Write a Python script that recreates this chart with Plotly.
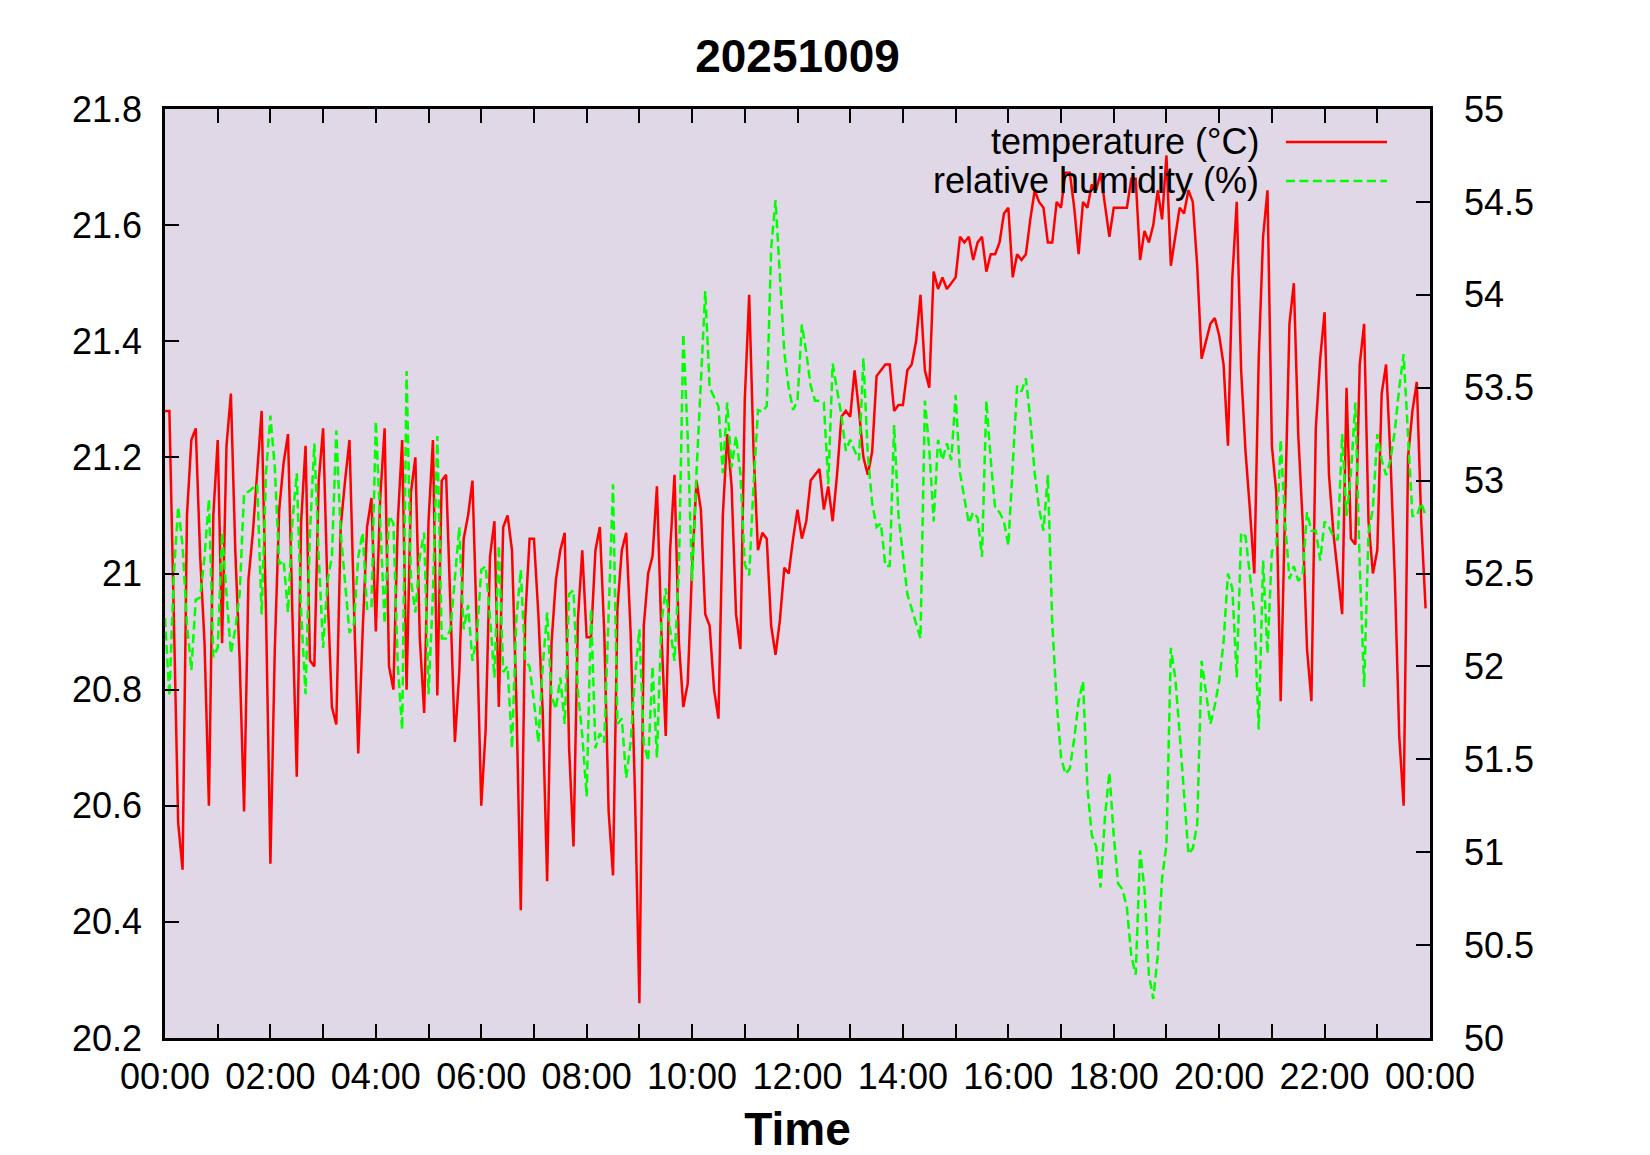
import plotly.graph_objects as go
import pandas as pd

# ---- data: samples every 5 minutes, 00:00 .. 23:55 on 2025-10-09 ----
times = pd.date_range("2025-10-09 00:00", periods=288, freq="5min")

temperature = [
    21.28, 21.28, 20.93, 20.57, 20.49, 21.10, 21.23, 21.25, 21.03, 20.88, 20.60, 21.10,
    21.23, 20.88, 21.22, 21.31, 21.04, 20.85, 20.59, 20.99, 21.07, 21.17, 21.28, 20.93,
    20.50, 20.87, 21.11, 21.19, 21.24, 20.93, 20.65, 21.09, 21.22, 20.85, 20.84, 21.16,
    21.25, 20.97, 20.77, 20.74, 21.08, 21.16, 21.23, 20.95, 20.69, 20.90, 21.08, 21.13,
    20.90, 21.13, 21.25, 20.84, 20.80, 21.09, 21.23, 20.80, 21.14, 21.20, 20.89, 20.76,
    21.09, 21.23, 20.79, 21.16, 21.17, 20.94, 20.71, 20.83, 21.06, 21.10, 21.16, 20.90,
    20.60, 20.73, 21.03, 21.09, 20.77, 21.08, 21.10, 21.04, 20.78, 20.42, 20.92, 21.06,
    21.06, 20.93, 20.76, 20.47, 20.88, 20.99, 21.04, 21.07, 20.70, 20.53, 20.92, 21.04,
    20.89, 20.89, 21.04, 21.08, 20.90, 20.59, 20.48, 20.94, 21.04, 21.07, 20.90, 20.62,
    20.26, 20.91, 21.00, 21.03, 21.15, 20.90, 20.72, 21.04, 21.17, 20.88, 20.77, 20.81,
    21.01, 21.16, 21.11, 20.93, 20.91, 20.80, 20.75, 21.10, 21.24, 21.15, 20.93, 20.87,
    21.30, 21.48, 21.21, 21.04, 21.07, 21.06, 20.91, 20.86, 20.92, 21.01, 21.00, 21.06,
    21.11, 21.06, 21.09, 21.16, 21.17, 21.18, 21.11, 21.15, 21.09, 21.17, 21.27, 21.28,
    21.27, 21.35, 21.28, 21.20, 21.17, 21.21, 21.34, 21.35, 21.36, 21.36, 21.28, 21.29,
    21.29, 21.35, 21.36, 21.40, 21.48, 21.35, 21.32, 21.52, 21.49, 21.51, 21.49, 21.50,
    21.51, 21.58, 21.57, 21.58, 21.54, 21.57, 21.58, 21.52, 21.55, 21.55, 21.57, 21.62,
    21.63, 21.51, 21.55, 21.54, 21.55, 21.61, 21.66, 21.64, 21.63, 21.57, 21.57, 21.64,
    21.63, 21.69, 21.69, 21.63, 21.55, 21.64, 21.63, 21.67, 21.66, 21.69, 21.63, 21.58,
    21.63, 21.63, 21.63, 21.63, 21.68, 21.68, 21.54, 21.59, 21.57, 21.60, 21.66, 21.61,
    21.72, 21.53, 21.58, 21.63, 21.62, 21.66, 21.64, 21.53, 21.37, 21.40, 21.43, 21.44,
    21.41, 21.36, 21.22, 21.51, 21.64, 21.35, 21.21, 21.11, 21.00, 21.37, 21.58, 21.66,
    21.22, 21.14, 20.78, 21.11, 21.43, 21.50, 21.24, 21.09, 20.87, 20.78, 21.25, 21.37,
    21.45, 21.17, 21.07, 21.00, 20.93, 21.32, 21.06, 21.05, 21.36, 21.43, 21.09, 21.00,
    21.04, 21.31, 21.36, 21.20, 20.99, 20.72, 20.60, 21.20, 21.28, 21.33, 21.09, 20.94,
]

humidity = [
    52.26, 51.84, 52.49, 52.86, 52.65, 52.23, 51.98, 52.36, 52.37, 52.59, 52.90, 52.05,
    52.10, 52.72, 52.39, 52.07, 52.20, 52.39, 52.93, 52.94, 52.96, 52.98, 52.28, 53.04,
    53.35, 53.07, 52.55, 52.57, 52.29, 52.78, 53.04, 52.29, 51.85, 52.72, 53.20, 52.59,
    52.10, 52.46, 52.59, 53.27, 52.72, 52.46, 52.18, 52.23, 52.59, 52.72, 52.31, 52.31,
    53.32, 52.78, 52.23, 52.81, 52.77, 52.00, 51.66, 53.59, 52.46, 52.29, 52.59, 52.72,
    51.85, 52.39, 53.24, 52.15, 52.15, 52.20, 52.46, 52.75, 52.20, 52.33, 52.03, 52.16,
    52.52, 52.54, 52.26, 51.94, 52.65, 51.97, 52.00, 51.56, 52.26, 52.52, 52.03, 52.00,
    51.81, 51.59, 52.00, 52.29, 51.84, 51.77, 51.94, 51.69, 52.39, 52.41, 51.87, 51.63,
    51.30, 52.31, 51.56, 51.64, 51.59, 52.29, 52.98, 51.69, 51.72, 51.40, 51.59, 51.94,
    52.20, 51.59, 51.49, 52.00, 51.51, 52.23, 52.42, 52.20, 52.03, 52.52, 53.79, 53.24,
    52.46, 53.04, 53.50, 54.02, 53.50, 53.45, 53.40, 53.04, 53.42, 53.07, 53.24, 53.04,
    52.55, 52.49, 52.98, 53.38, 53.37, 53.40, 54.25, 54.51, 54.12, 53.69, 53.50, 53.38,
    53.43, 53.84, 53.69, 53.51, 53.43, 53.43, 53.42, 52.98, 53.63, 53.50, 53.35, 53.16,
    53.22, 53.16, 53.11, 53.66, 53.14, 52.88, 52.75, 52.77, 52.54, 52.54, 53.30, 52.81,
    52.59, 52.39, 52.31, 52.23, 52.15, 53.43, 53.17, 52.78, 53.22, 53.11, 53.20, 53.11,
    53.46, 53.04, 52.91, 52.77, 52.83, 52.80, 52.59, 53.43, 53.11, 52.85, 52.83, 52.78,
    52.65, 53.11, 53.51, 53.48, 53.55, 53.33, 53.04, 52.85, 52.73, 53.03, 52.23, 51.81,
    51.51, 51.42, 51.45, 51.61, 51.81, 51.92, 51.35, 51.09, 51.03, 50.81, 51.19, 51.43,
    51.09, 50.83, 50.80, 50.70, 50.44, 50.34, 51.01, 50.80, 50.34, 50.21, 50.44, 50.86,
    51.04, 52.10, 51.94, 51.64, 51.29, 50.99, 51.02, 51.15, 52.03, 51.85, 51.69, 51.79,
    51.92, 52.13, 52.50, 52.42, 51.94, 52.72, 52.70, 52.49, 52.28, 51.66, 52.57, 52.07,
    52.62, 52.65, 53.22, 52.78, 52.47, 52.54, 52.46, 52.49, 52.83, 52.73, 52.73, 52.57,
    52.78, 52.75, 52.70, 52.68, 53.25, 52.81, 53.04, 53.42, 52.55, 51.89, 52.72, 52.85,
    53.25, 53.11, 53.03, 53.11, 53.27, 53.50, 53.68, 53.24, 52.81, 52.81, 52.88, 52.81,
]

temp_tickvals = [20.2, 20.4, 20.6, 20.8, 21.0, 21.2, 21.4, 21.6, 21.8]
temp_ticktext = ["20.2", "20.4", "20.6", "20.8", "21", "21.2", "21.4", "21.6", "21.8"]
hum_tickvals = [50, 50.5, 51, 51.5, 52, 52.5, 53, 53.5, 54, 54.5, 55]
hum_ticktext = ["50", "50.5", "51", "51.5", "52", "52.5", "53", "53.5", "54", "54.5", "55"]

series_names = ["temperature (°C)", "relative humidity (%)"]
series_colors = ["#ff0000", "#00ff00"]
series_dashes = ["solid", "9px,4.5px"]

FONT = "Liberation Sans, Arial, Helvetica, sans-serif"

fig = go.Figure()
fig.add_trace(go.Scatter(
    x=times, y=temperature, mode="lines", name=series_names[0],
    line=dict(color=series_colors[0], width=2.5, dash=series_dashes[0]),
    showlegend=False,
))
fig.add_trace(go.Scatter(
    x=times, y=humidity, mode="lines", name=series_names[1], yaxis="y2",
    line=dict(color=series_colors[1], width=2.5, dash=series_dashes[1]),
    showlegend=False,
))

axis_common = dict(
    ticks="inside", ticklen=14, tickwidth=2, tickcolor="black",
    showline=True, linecolor="black", linewidth=2.5,
    showgrid=False, zeroline=False, automargin=False,
    tickfont=dict(family=FONT, size=36, color="black"),
)

fig.update_layout(
    width=1650, height=1155,
    paper_bgcolor="white", plot_bgcolor="#e0d8e6",
    font=dict(family=FONT, color="black"),
    margin=dict(l=165, r=220, t=109, b=117, pad=0, autoexpand=False),
    title=dict(text="20251009", x=0.5, xref="paper", y=1 - 56 / 1155, yref="container",
               xanchor="center", yanchor="middle",
               font=dict(family=FONT, size=46, color="black", weight="bold")),
    xaxis=dict(
        **axis_common,
        range=[pd.Timestamp("2025-10-09 00:00"), pd.Timestamp("2025-10-10 00:00")],
        tick0=pd.Timestamp("2025-10-09 00:00"), dtick=2 * 3600 * 1000,
        tickformat="%H:%M", mirror="allticks",
        minor=dict(dtick=3600 * 1000, ticks="inside", ticklen=14, tickwidth=2, tickcolor="black"),
        ticklabelstandoff=5,
        title=dict(text="Time", standoff=17,
                   font=dict(family=FONT, size=46, color="black", weight="bold")),
    ),
    yaxis=dict(
        **axis_common,
        range=[20.2, 21.8], tickmode="array", tickvals=temp_tickvals, ticktext=temp_ticktext,
        mirror=False, ticklabelstandoff=13,
    ),
    yaxis2=dict(
        **axis_common,
        range=[50, 55], tickmode="array", tickvals=hum_tickvals, ticktext=hum_ticktext,
        overlaying="y", side="right", anchor="x", ticklabelstandoff=24,
    ),
)

# gnuplot-style key: text right-aligned, line sample to its right
key_y = [0.9645, 0.9225]
for name, color, dash, ky in zip(series_names, series_colors, series_dashes, key_y):
    fig.add_annotation(x=0.8663, y=ky, xref="paper", yref="paper", text=name,
                       showarrow=False, xanchor="right", yanchor="middle",
                       font=dict(family=FONT, size=36, color="black"))
    fig.add_shape(type="line", xref="paper", yref="paper", x0=0.8861, x1=0.9660, y0=ky, y1=ky,
                  line=dict(color=color, width=2.5, dash=dash))

fig.write_html("out.html", config={"displayModeBar": False},
               post_script="document.body.style.margin='0';")
